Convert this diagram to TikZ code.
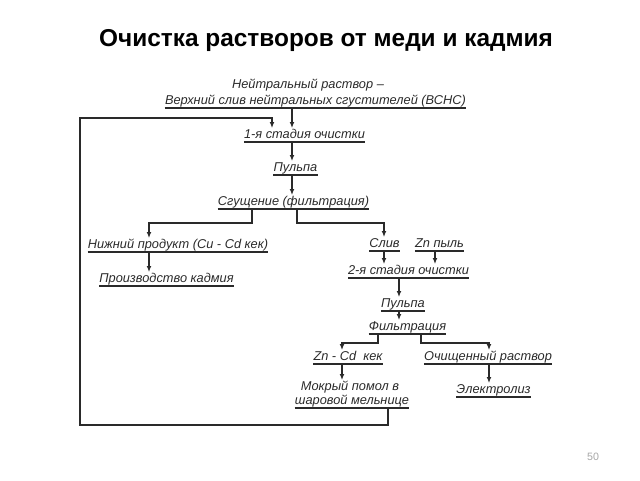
\documentclass[tikz,border=0pt]{standalone}
\usepackage{fontspec}
\setmainfont{Liberation Sans}
\usetikzlibrary{arrows.meta}
\definecolor{ink}{HTML}{2A2A2A}
\tikzset{
  lbl/.style={anchor=south, inner sep=0pt, text height=7.6pt, text depth=2.5pt,
    font=\fontsize{9.6}{11}\selectfont\itshape, text=ink},
  uline/.style={draw=ink, line width=0.9pt},
  arr/.style={draw=ink, line width=0.8pt, -{Latex[length=4.5pt,width=3.6pt]}},
  ln/.style={draw=ink, line width=0.8pt}
}
\begin{document}
\begin{tikzpicture}[x=0.75pt,y=-0.75pt]
\useasboundingbox (0,0) rectangle (640,480);
\node[font=\fontsize{18.3}{20}\selectfont\bfseries] (title) at (326,41) {Очистка растворов от меди и кадмия};
\node[text=gray!70, font=\fontsize{8}{9}\selectfont] (page) at (593,457) {50};

\node[lbl] (top1) at (308,92) {Нейтральный раствор –};
\node[lbl] (top2) at (315.5,108) {Верхний слив нейтральных сгустителей (ВСНС)};
\node[lbl] (st1) at (304.5,142) {1-я стадия очистки};
\node[lbl] (pu1) at (295.5,175) {Пульпа};
\node[lbl] (sg) at (293.5,209) {Сгущение (фильтрация)};
\node[lbl] (nizh) at (178,252) {Нижний продукт (Cu - Cd кек)};
\node[lbl] (proizv) at (166.5,286) {Производство кадмия};
\node[lbl] (sliv) at (384.5,251) {Слив};
\node[lbl] (zn) at (439.5,251) {Zn пыль};
\node[lbl] (st2) at (408.5,278) {2-я стадия очистки};
\node[lbl] (pu2) at (403,311) {Пульпа};
\node[lbl] (fil) at (407.5,334) {Фильтрация};
\node[lbl] (zncd) at (348,364) {Zn - Cd\ \ кек};
\node[lbl] (och) at (488,364) {Очищенный раствор};
\node[lbl] (mok1) at (350,394) {Мокрый помол в};
\node[lbl] (mok2) at (352,408) {шаровой мельнице};
\node[lbl] (el) at (493.5,397) {Электролиз};

\foreach \n in {top2,st1,pu1,sg,nizh,proizv,sliv,zn,st2,pu2,fil,zncd,och,mok2,el}
  \draw[uline] (\n.south west) -- (\n.south east);

\coordinate (xA) at (292,0);
\coordinate (xFb) at (272,0);
\coordinate (fbt) at (80,118);
\coordinate (fbb) at (80,425);
\coordinate (xSgL) at (252,0);
\coordinate (xNizh) at (149,0);
\coordinate (xSgR) at (297,0);
\coordinate (xSliv) at (384,0);
\coordinate (xZn) at (435,0);
\coordinate (x2) at (399,0);
\coordinate (xFL) at (378,0);
\coordinate (xZnCd) at (342,0);
\coordinate (xFR) at (421,0);
\coordinate (xOch) at (489,0);
\coordinate (xMok) at (388,0);

\draw[arr] (top2.south -| xA) -- (st1.north -| xA);
\draw[arr] (mok2.south -| xMok) |- (fbb) -- (fbt) -| (st1.north -| xFb);
\draw[arr] (st1.south -| xA) -- (pu1.north -| xA);
\draw[arr] (pu1.south -| xA) -- (sg.north -| xA);
\draw[arr] (sg.south -| xSgL) -- ++(0,14) -| (nizh.north -| xNizh);
\draw[arr] (sg.south -| xSgR) -- ++(0,14) -| (sliv.north -| xSliv);
\draw[arr] (nizh.south -| xNizh) -- (proizv.north -| xNizh);
\draw[arr] (sliv.south -| xSliv) -- (st2.north -| xSliv);
\draw[arr] (zn.south -| xZn) -- (st2.north -| xZn);
\draw[arr] (st2.south -| x2) -- (pu2.north -| x2);
\draw[arr] (pu2.south -| x2) -- (fil.north -| x2);
\draw[arr] (fil.south -| xFL) -- ++(0,9) -| (zncd.north -| xZnCd);
\draw[arr] (fil.south -| xFR) -- ++(0,9) -| (och.north -| xOch);
\draw[arr] (zncd.south -| xZnCd) -- (mok1.north -| xZnCd);
\draw[arr] (och.south -| xOch) -- (el.north -| xOch);
\end{tikzpicture}
\end{document}
